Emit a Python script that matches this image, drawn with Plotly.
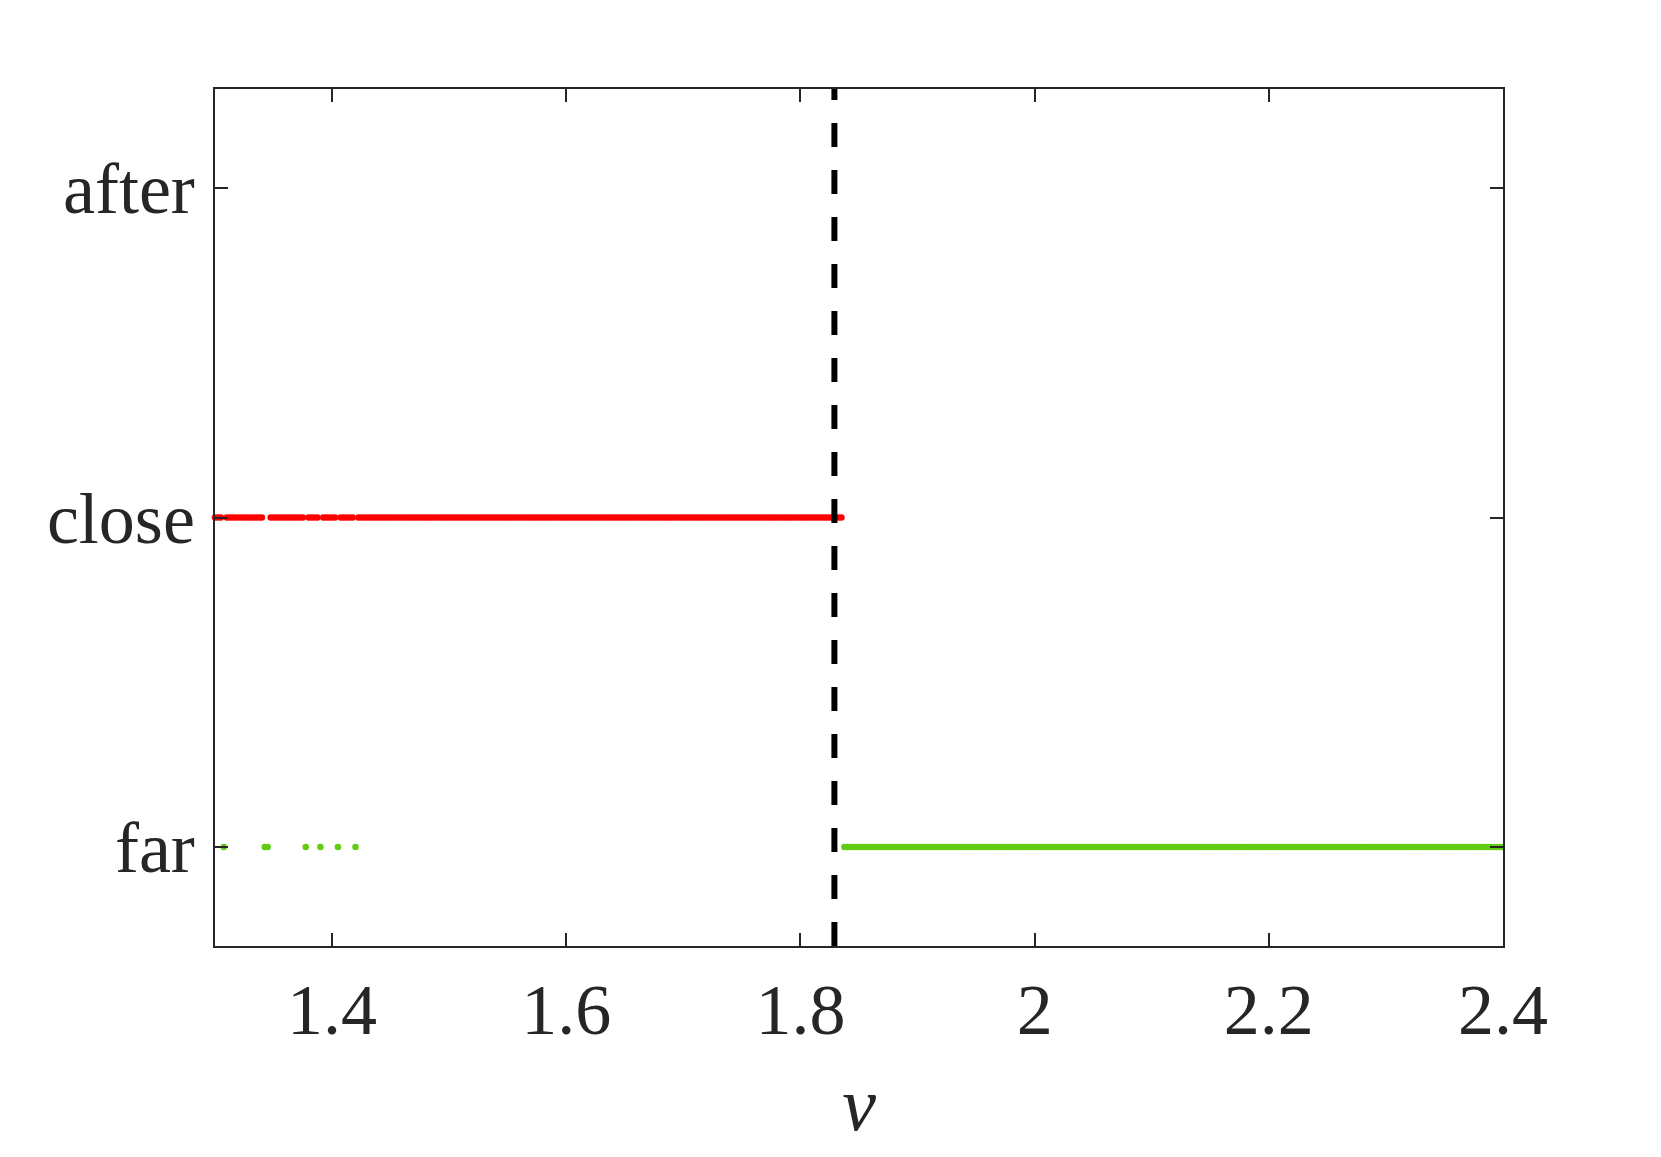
import numpy as np
import plotly.graph_objects as go

# parameter sweep
v_start = 1.3
v_end = 2.4
v_step = 0.0025
# isolated "far" points in the low-v region
far_low = [1.3075, 1.3425, 1.345, 1.3775, 1.39, 1.405, 1.42]
# transition: above this v everything is "far"
v_switch = 1.8375
v_critical = [1.829, 1.829]

cat_vals = [1, 2, 3]
cat_labels = ["far", "close", "after"]
x_ticks = [1.4, 1.6, 1.8, 2.0, 2.2, 2.4]
x_ticklabels = ["1.4", "1.6", "1.8", "2", "2.2", "2.4"]
y_range = [0.7, 3.3]

v_grid = np.round(np.arange(v_start, v_end + v_step / 2, v_step), 4)
far_low_set = set(far_low)
is_far = np.array([(v >= v_switch) or (round(v, 4) in far_low_set) for v in v_grid])
v_close = v_grid[~is_far]
v_far = v_grid[is_far]

fig = go.Figure()
fig.add_trace(go.Scatter(
    x=v_close, y=[2] * len(v_close), mode="markers",
    marker=dict(color="#FF0000", size=6.5, line=dict(width=0)),
    cliponaxis=False, showlegend=False,
))
fig.add_trace(go.Scatter(
    x=v_far, y=[1] * len(v_far), mode="markers",
    marker=dict(color="#62CC14", size=6.5, line=dict(width=0)),
    cliponaxis=True, showlegend=False,
))
fig.add_trace(go.Scatter(
    x=v_critical, y=y_range, mode="lines",
    line=dict(color="black", width=6, dash="24px,23px"),
    showlegend=False,
))

axis_common = dict(
    showgrid=False, zeroline=False,
    showline=True, linecolor="#262626", linewidth=1.5,
    mirror="ticks", ticks="inside", ticklen=13, tickwidth=1.5,
    tickcolor="#262626",
    tickfont=dict(family="Liberation Serif, Times New Roman, serif", size=72, color="#262626"),
)

fig.update_layout(
    width=1661, height=1157,
    margin=dict(l=207, r=166, t=81, b=219),
    paper_bgcolor="white", plot_bgcolor="white",
    xaxis=dict(
        range=[v_start, v_end], tickvals=x_ticks, ticktext=x_ticklabels,
        ticklabelstandoff=0,
        title=dict(text="<i>v</i>", standoff=28,
                   font=dict(family="Liberation Serif, Times New Roman, serif", size=76, color="#262626")),
        **axis_common,
    ),
    yaxis=dict(
        range=y_range, tickvals=cat_vals, ticktext=cat_labels,
        ticklabelstandoff=4,
        **axis_common,
    ),
)

fig.write_html("out.html")
